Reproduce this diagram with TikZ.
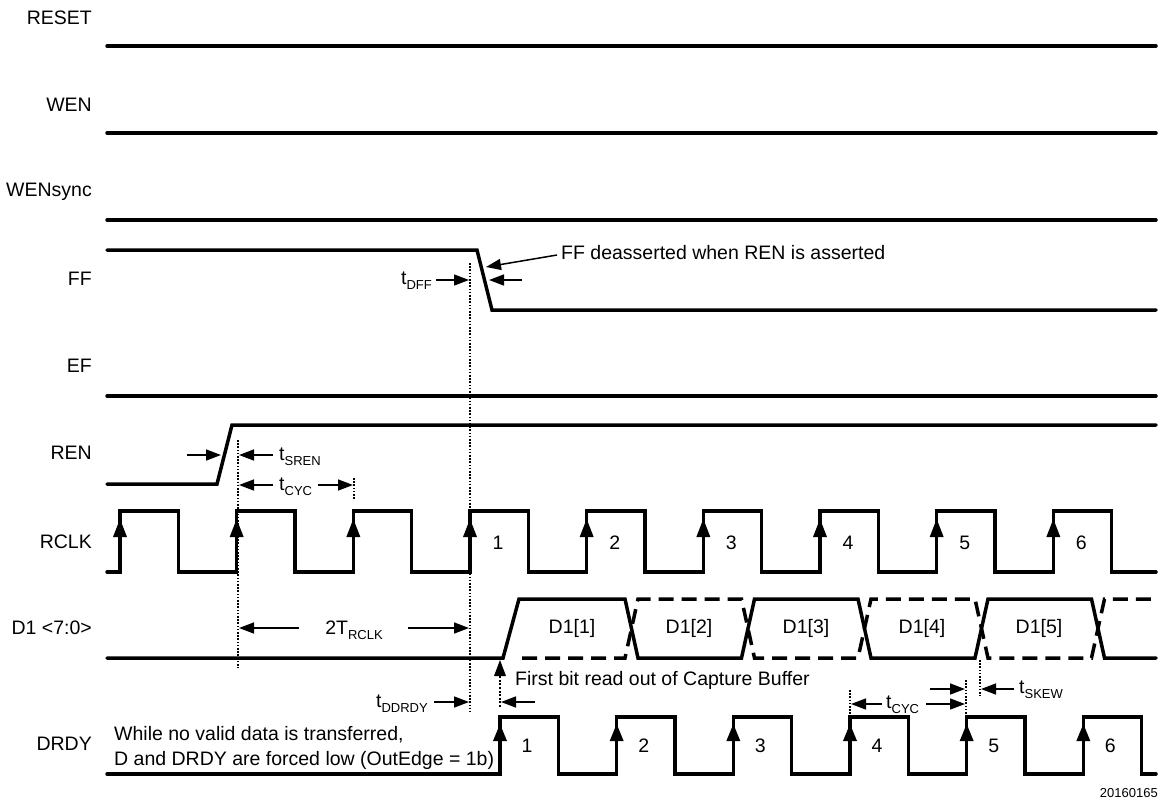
\documentclass[tikz,border=0pt]{standalone}
\usepackage{fontspec}
\setmainfont{Liberation Sans}
\usetikzlibrary{arrows.meta}
\newcommand\mysub[1]{\raisebox{-0.45ex}{\fontsize{13}{15}\selectfont #1}}
\begin{document}
\begin{tikzpicture}[x=1pt,y=-1pt,
  sig/.style={line width=3.5pt,line cap=round,line join=miter},
  dsig/.style={line width=3.5pt,line cap=butt,line join=miter,dash pattern=on 15pt off 8pt},
  lbl/.style={font=\fontsize{19.5}{23}\selectfont,inner sep=0pt},
  small/.style={font=\fontsize{13}{15}\selectfont,inner sep=0pt},
  dim/.style={line width=1.5pt,-{Triangle[length=15pt,width=11pt]}},
  dotl/.style={line width=1.1pt,dash pattern=on 1.6pt off 1.6pt}]
\useasboundingbox (0,0) rectangle (1160,804);

% signal names
\node[lbl,anchor=east] (nreset) at (92,18) {RESET};
\node[lbl,anchor=east] (nwen) at (92,105) {WEN};
\node[lbl,anchor=east] (nwensync) at (92,192) {WENsync};
\node[lbl,anchor=east] (nff) at (92,279) {FF};
\node[lbl,anchor=east] (nef) at (92,366) {EF};
\node[lbl,anchor=east] (nren) at (92,453) {REN};
\node[lbl,anchor=east] (nrclk) at (92,542) {RCLK};
\node[lbl,anchor=east] (nd1) at (92,628) {D1 <7:0>};
\node[lbl,anchor=east] (ndrdy) at (92,744) {DRDY};

% constant signals
\draw[sig] (107,46) -- (1156,46);
\draw[sig] (107,133) -- (1156,133);
\draw[sig] (107,220) -- (1156,220);
\draw[sig] (107,396) -- (1156,396);
% FF
\draw[sig] (107,250) -- (477,250) -- (492,310) -- (1156,310);
% REN
\draw[sig] (107,484) -- (217,484) -- (232,425) -- (1156,425);

% RCLK
\draw[sig] (107,572)
  \foreach \k in {0,...,8} {
    -- ({120+116.667*\k},572) -- ({120+116.667*\k},511)
    -- ({178.3+116.667*\k},511) -- ({178.3+116.667*\k},572) }
  -- (1156,572);
\foreach \k in {0,...,8} {
  \fill ({120+116.667*\k-7},537) -- ({120+116.667*\k},519) -- ({120+116.667*\k+7},537) -- cycle;
}
\foreach \k/\n in {3/1,4/2,5/3,6/4,7/5,8/6} {
  \node[lbl] (rc\n) at ({148+116.667*\k},543) {\n};
}

% D1
\draw[sig] (107,658) -- (503,658) -- (519,599) -- (625,599) -- (638,658)
  -- (741.5,658) -- (754.5,599) -- (858,599) -- (871,658) -- (975,658)
  -- (988,599) -- (1091.5,599) -- (1104.5,658) -- (1156,658);
\draw[dsig] (522,658) -- (625,658) -- (638,599) -- (741.5,599) -- (754.5,658)
  -- (858,658) -- (871,599) -- (975,599) -- (988,658) -- (1091.5,658)
  -- (1104.5,599) -- (1158,599);
\node[lbl] (d11) at (572,628) {D1[1]};
\node[lbl] (d12) at (689,628) {D1[2]};
\node[lbl] (d13) at (806,628) {D1[3]};
\node[lbl] (d14) at (922,628) {D1[4]};
\node[lbl] (d15) at (1039,628) {D1[5]};

% DRDY
\draw[sig] (107,774)
  \foreach \k in {0,...,5} {
    -- ({500+116.667*\k},774) -- ({500+116.667*\k},717)
    -- ({558.3+116.667*\k},717) -- ({558.3+116.667*\k},774) }
  -- (1156,774);
\foreach \k in {0,...,5} {
  \fill ({500+116.667*\k-7},741) -- ({500+116.667*\k},724) -- ({500+116.667*\k+7},741) -- cycle;
}
\foreach \k/\n in {0/1,1/2,2/3,3/4,4/5,5/6} {
  \node[lbl] (dr\n) at ({527+116.667*\k},746) {\n};
}
\node[lbl,anchor=west] (note1) at (114,735) {While no valid data is transferred,};
\node[lbl,anchor=west] (note2) at (114,760) {D and DRDY are forced low (OutEdge = 1b)};

% dotted reference lines
\draw[dotl] (470,263) -- (470,712);
\draw[dotl] (238,440) -- (238,668);
\draw[dotl] (354,478) -- (354,500);
\draw[dotl] (850,690) -- (850,717);
\draw[dotl] (966,680) -- (966,717);
\draw[dotl] (980,660) -- (980,696);

% FF annotations
\node[lbl,anchor=west] (ffnote) at (561,253) {FF deasserted when REN is asserted};
\coordinate (ffslope) at (486,267);
\draw[dim] (ffnote.west) ++(-4,2) -- (ffslope);
\node[lbl,anchor=east] (tdff) at (432,281) {t\mysub{DFF}};
\draw[dim] (436,280) -- (469,280);
\draw[dim] (522,280) -- (489,280);

% REN annotations
\draw[dim] (187,455) -- (221,455);
\draw[dim] (273,455) -- (239,455);
\node[lbl,anchor=west] (tsren) at (279,457) {t\mysub{SREN}};
\draw[dim] (273,485) -- (239,485);
\node[lbl,anchor=west] (tcyc1) at (279,487) {t\mysub{CYC}};
\draw[dim] (318,485) -- (353,485);

% 2TRCLK
\node[lbl] (trclk) at (354,630) {2T\mysub{RCLK}};
\draw[dim] (299,628) -- (239,628);
\draw[dim] (408,628) -- (469,628);

% first bit
\draw[line width=1.1pt,dash pattern=on 2pt off 1.6pt] (500,707) -- (500,672);
\fill (494,676) -- (500,660) -- (506,676) -- cycle;
\node[lbl,anchor=west] (firstbit) at (515,680) {First bit read out of Capture Buffer};
\node[lbl,anchor=east] (tddrdy) at (428,704) {t\mysub{DDRDY}};
\draw[dim] (434,702) -- (469,702);
\draw[dim] (535,702) -- (501,702);

% tCYC / tSKEW
\draw[dim] (882,704) -- (851,704);
\node[lbl,anchor=west] (tcyc2) at (886,705) {t\mysub{CYC}};
\draw[dim] (926,704) -- (965,704);
\draw[dim] (930,689) -- (965,689);
\draw[dim] (1014,689) -- (981,689);
\node[lbl,anchor=west] (tskew) at (1019,690) {t\mysub{SKEW}};

% figure number
\node[small,anchor=east] (fignum) at (1158,793) {20160165};
\end{tikzpicture}
\end{document}
